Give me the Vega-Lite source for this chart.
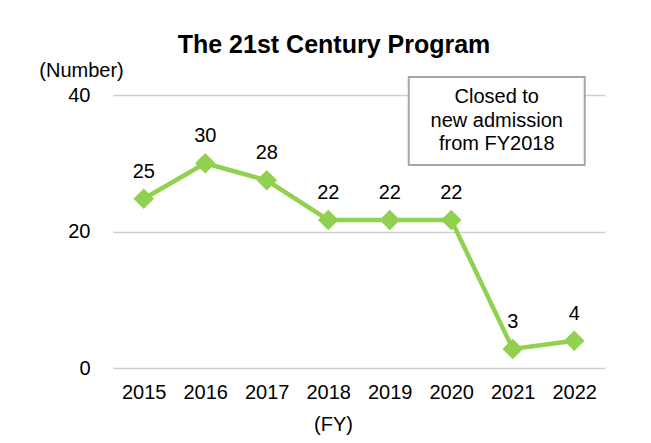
{
  "$schema": "https://vega.github.io/schema/vega-lite/v6.json",
  "width": 492,
  "height": 273,
  "autosize": {"type": "none"},
  "padding": {"left": 113, "top": 95, "right": 46, "bottom": 75},
  "background": "white",
  "title": {
    "text": "The 21st Century Program",
    "font": "Liberation Sans",
    "fontSize": 25,
    "fontWeight": "bold",
    "color": "black",
    "anchor": "middle",
    "frame": "group",
    "dx": -25,
    "baseline": "alphabetic",
    "offset": -18
  },
  "config": {
    "font": "Liberation Sans",
    "view": {"stroke": null},
    "axis": {
      "labelFont": "Liberation Sans",
      "titleFont": "Liberation Sans",
      "labelColor": "black",
      "titleColor": "black",
      "labelFontSize": 20,
      "titleFontSize": 20,
      "titleFontWeight": "normal"
    }
  },
  "data": {
    "values": [
      {"year": "2015", "value": 24.8},
      {"year": "2016", "value": 30.0},
      {"year": "2017", "value": 27.5},
      {"year": "2018", "value": 21.7},
      {"year": "2019", "value": 21.7},
      {"year": "2020", "value": 21.7},
      {"year": "2021", "value": 2.8},
      {"year": "2022", "value": 4.0}
    ]
  },
  "encoding": {
    "x": {
      "field": "year",
      "type": "nominal",
      "sort": null,
      "scale": {"type": "point", "padding": 0.5},
      "axis": {
        "title": "(FY)",
        "labelAngle": 0,
        "domain": false,
        "ticks": false,
        "grid": false,
        "labelPadding": 14,
        "titleX": 220,
        "titleY": 56,
        "titleAlign": "center",
        "titleBaseline": "middle"
      }
    },
    "y": {
      "field": "value",
      "type": "quantitative",
      "scale": {"domain": [0, 40]},
      "axis": {
        "title": "(Number)",
        "values": [0, 20, 40],
        "domain": false,
        "ticks": false,
        "grid": true,
        "gridColor": "#CFCFCF",
        "gridWidth": 1.5,
        "labelPadding": 23,
        "titleAngle": 0,
        "titleX": -32,
        "titleY": -25,
        "titleAlign": "center",
        "titleBaseline": "middle"
      }
    }
  },
  "layer": [
    {
      "mark": {"type": "line", "color": "#92D050", "strokeWidth": 4.5}
    },
    {
      "mark": {"type": "point", "shape": "diamond", "filled": true, "size": 420, "color": "#92D050", "opacity": 1}
    },
    {
      "mark": {"type": "text", "dy": -27, "fontSize": 20, "baseline": "middle", "align": "center", "color": "black"},
      "encoding": {"text": {"field": "value", "type": "quantitative", "format": ".0f"}}
    },
    {
      "transform": [{"filter": "datum.year == '2021'"}],
      "mark": {
        "type": "point",
        "shape": "M-1,-0.5H1V0.5H-1Z",
        "size": 30976,
        "filled": true,
        "fill": "white",
        "stroke": "#A6A6A6",
        "strokeWidth": 2,
        "opacity": 1,
        "xOffset": -16
      },
      "encoding": {
        "x": {"datum": "2021"},
        "y": {"datum": 36.2}
      }
    },
    {
      "transform": [{"filter": "datum.year == '2021'"}],
      "mark": {
        "type": "text",
        "fontSize": 20,
        "lineHeight": 23.5,
        "align": "center",
        "baseline": "middle",
        "dx": -16,
        "dy": -23.5,
        "color": "black"
      },
      "encoding": {
        "x": {"datum": "2021"},
        "y": {"datum": 36.2},
        "text": {"value": ["Closed to", "new admission", "from FY2018"]}
      }
    }
  ]
}
